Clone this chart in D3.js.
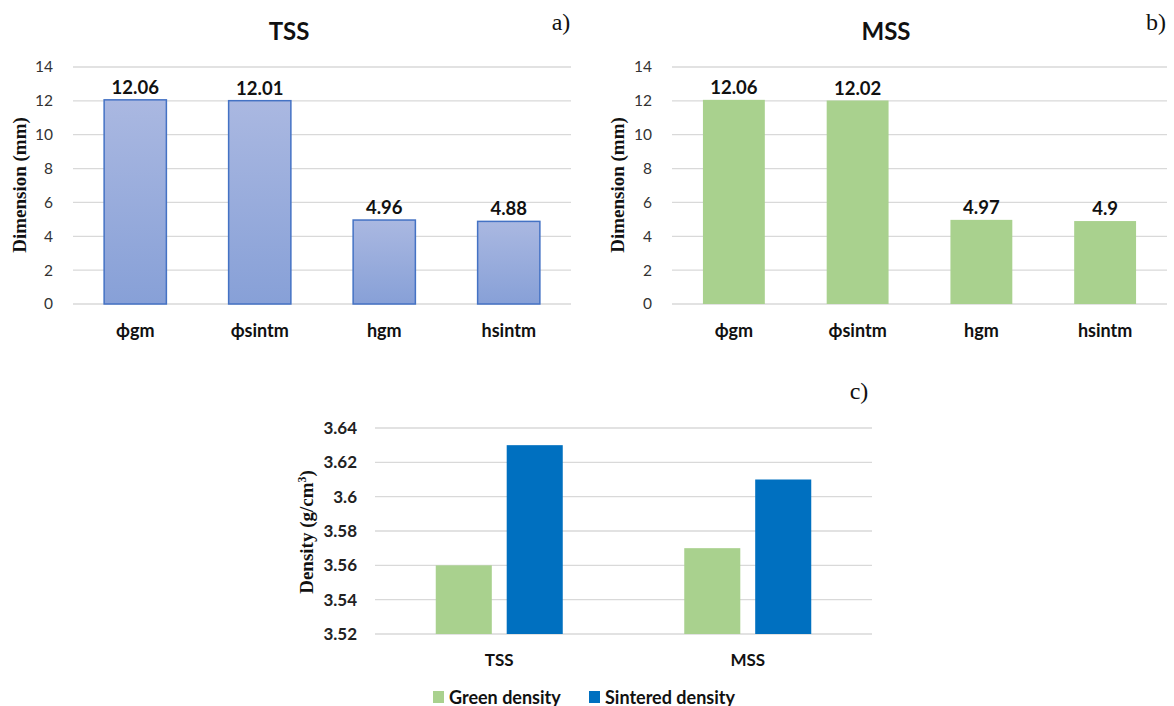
<!DOCTYPE html>
<html><head><meta charset="utf-8">
<script src="https://cdn.jsdelivr.net/npm/d3@7"></script>
<style>body{margin:0;background:#fff}svg{display:block}</style>
</head><body>
<script>
const dimCategories = ["ϕgm", "ϕsintm", "hgm", "hsintm"];
const tssValues = [12.06, 12.01, 4.96, 4.88];
const mssValues = [12.06, 12.02, 4.97, 4.9];
const dimTicks = [0, 2, 4, 6, 8, 10, 12, 14];
const densCategories = ["TSS", "MSS"];
const densSeries = ["Green density", "Sintered density"];
const greenDensity = [3.56, 3.57];
const sinteredDensity = [3.63, 3.61];
const densTicks = [3.52, 3.54, 3.56, 3.58, 3.6, 3.62, 3.64];

const W = 1174, H = 706;
const sans = "Lato, 'Open Sans', sans-serif";
const serif = "'Liberation Serif', 'DejaVu Serif', serif";
const svg = d3.select("body").append("svg").attr("width", W).attr("height", H);

const defs = svg.append("defs");
const grad = defs.append("linearGradient").attr("id", "blueGrad").attr("x1", 0).attr("y1", 0).attr("x2", 0).attr("y2", 1);
grad.append("stop").attr("offset", "0%").attr("stop-color", "#AAB8E1");
grad.append("stop").attr("offset", "100%").attr("stop-color", "#87A0D7");

function dimPanel(opt) {
  const g = svg.append("g");
  const x = d3.scaleBand().domain(dimCategories).range([opt.x0, opt.x1]).paddingInner(0.5).paddingOuter(0.25);
  const y = d3.scaleLinear().domain([0, 14]).range([304, 67]);
  g.selectAll(".grid").data(dimTicks).join("line")
    .attr("x1", opt.x0).attr("x2", opt.x1)
    .attr("y1", d => y(d)).attr("y2", d => y(d))
    .attr("stroke", "#d9d9d9").attr("stroke-width", 1.3);
  const ax = g.append("g").attr("transform", `translate(${opt.x0 - 20},0)`)
    .call(d3.axisLeft(y).tickValues(dimTicks).tickSize(0).tickPadding(0).tickFormat(d3.format("d")));
  ax.select(".domain").remove();
  ax.selectAll("text").attr("font-family", sans).attr("font-size", 15.5).attr("fill", "#333");
  g.selectAll(".bar").data(opt.values).join("rect")
    .attr("x", (d, i) => x(dimCategories[i]))
    .attr("width", x.bandwidth())
    .attr("y", d => y(d)).attr("height", d => y(0) - y(d))
    .attr("fill", opt.fill).attr("stroke", opt.stroke || "none").attr("stroke-width", 1.5);
  g.selectAll(".val").data(opt.values).join("text")
    .attr("x", (d, i) => x(dimCategories[i]) + x.bandwidth() / 2)
    .attr("y", d => y(d) - 6)
    .attr("text-anchor", "middle").attr("font-family", sans).attr("font-weight", "bold")
    .attr("font-size", 18.5).attr("fill", "#111").text(d => d);
  g.selectAll(".cat").data(dimCategories).join("text")
    .attr("x", d => x(d) + x.bandwidth() / 2).attr("y", 337)
    .attr("text-anchor", "middle").attr("font-family", sans).attr("font-weight", "bold")
    .attr("font-size", 18).attr("fill", "#111").text(d => d);
  g.append("text").attr("x", opt.titleX).attr("y", 40).attr("text-anchor", "middle")
    .attr("font-family", sans).attr("font-weight", "bold").attr("font-size", 24).attr("fill", "#111").text(opt.title);
  g.append("text").attr("x", opt.letterX).attr("y", 30).attr("text-anchor", "middle")
    .attr("font-family", serif).attr("font-size", 24).attr("fill", "#111").text(opt.letter);
  g.append("text").attr("transform", `translate(${opt.labelX},185) rotate(-90)`)
    .attr("text-anchor", "middle").attr("font-family", serif).attr("font-weight", "bold")
    .attr("font-size", 19).attr("fill", "#111").text("Dimension (mm)");
}

dimPanel({x0: 73, x1: 571, values: tssValues, fill: "url(#blueGrad)", stroke: "#4472C4",
  title: "TSS", titleX: 289, letter: "a)", letterX: 561, labelX: 26});
dimPanel({x0: 672, x1: 1167, values: mssValues, fill: "#A9D18E",
  title: "MSS", titleX: 886, letter: "b)", letterX: 1156, labelX: 624});

// Panel c
{
  const g = svg.append("g");
  const x0 = 375, x1 = 872;
  const x = d3.scaleBand().domain(densCategories).range([x0, x1]);
  const groupW = 127;
  const inner = d3.scaleBand().domain(densSeries).range([0, groupW]).paddingInner(0.21);
  const y = d3.scaleLinear().domain([3.52, 3.64]).range([634, 428]);
  const colors = {"Green density": "#A9D18E", "Sintered density": "#0070C0"};
  g.selectAll(".grid").data(densTicks).join("line")
    .attr("x1", x0).attr("x2", x1)
    .attr("y1", d => y(d)).attr("y2", d => y(d))
    .attr("stroke", "#d9d9d9").attr("stroke-width", 1.3);
  const ax = g.append("g").attr("transform", `translate(${x0 - 18},0)`)
    .call(d3.axisLeft(y).tickValues(densTicks).tickSize(0).tickPadding(0).tickFormat(d => +d.toFixed(2)));
  ax.select(".domain").remove();
  ax.selectAll("text").attr("font-family", sans).attr("font-weight", "bold").attr("font-size", 17).attr("fill", "#222");
  const rows = [];
  densCategories.forEach((c, i) => {
    rows.push({cat: c, s: densSeries[0], v: greenDensity[i]});
    rows.push({cat: c, s: densSeries[1], v: sinteredDensity[i]});
  });
  g.selectAll(".bar").data(rows).join("rect")
    .attr("x", d => x(d.cat) + x.bandwidth() / 2 - groupW / 2 + inner(d.s))
    .attr("width", inner.bandwidth())
    .attr("y", d => y(d.v)).attr("height", d => y(3.52) - y(d.v))
    .attr("fill", d => colors[d.s]);
  g.selectAll(".cat").data(densCategories).join("text")
    .attr("x", d => x(d) + x.bandwidth() / 2).attr("y", 666)
    .attr("text-anchor", "middle").attr("font-family", sans).attr("font-weight", "bold")
    .attr("font-size", 17).attr("fill", "#111").text(d => d);
  g.append("text").attr("x", 859).attr("y", 399).attr("text-anchor", "middle")
    .attr("font-family", serif).attr("font-size", 24).attr("fill", "#111").text("c)");
  const yl = g.append("text").attr("transform", `translate(313,532) rotate(-90)`)
    .attr("text-anchor", "middle").attr("font-family", serif).attr("font-weight", "bold")
    .attr("font-size", 19).attr("fill", "#111");
  yl.append("tspan").text("Density (g/cm");
  yl.append("tspan").attr("dy", -7).attr("font-size", 12).text("3");
  yl.append("tspan").attr("dy", 7).text(")");
  const legX = [433, 589];
  const leg = g.selectAll(".leg").data(densSeries).join("g")
    .attr("transform", (d, i) => `translate(${legX[i]},691)`);
  leg.append("rect").attr("width", 11).attr("height", 12).attr("y", 0).attr("fill", d => colors[d]);
  leg.append("text").attr("x", 16).attr("y", 12.5).attr("font-family", sans).attr("font-weight", "bold")
    .attr("font-size", 18).attr("fill", "#111").text(d => d);
}
</script>
</body></html>
